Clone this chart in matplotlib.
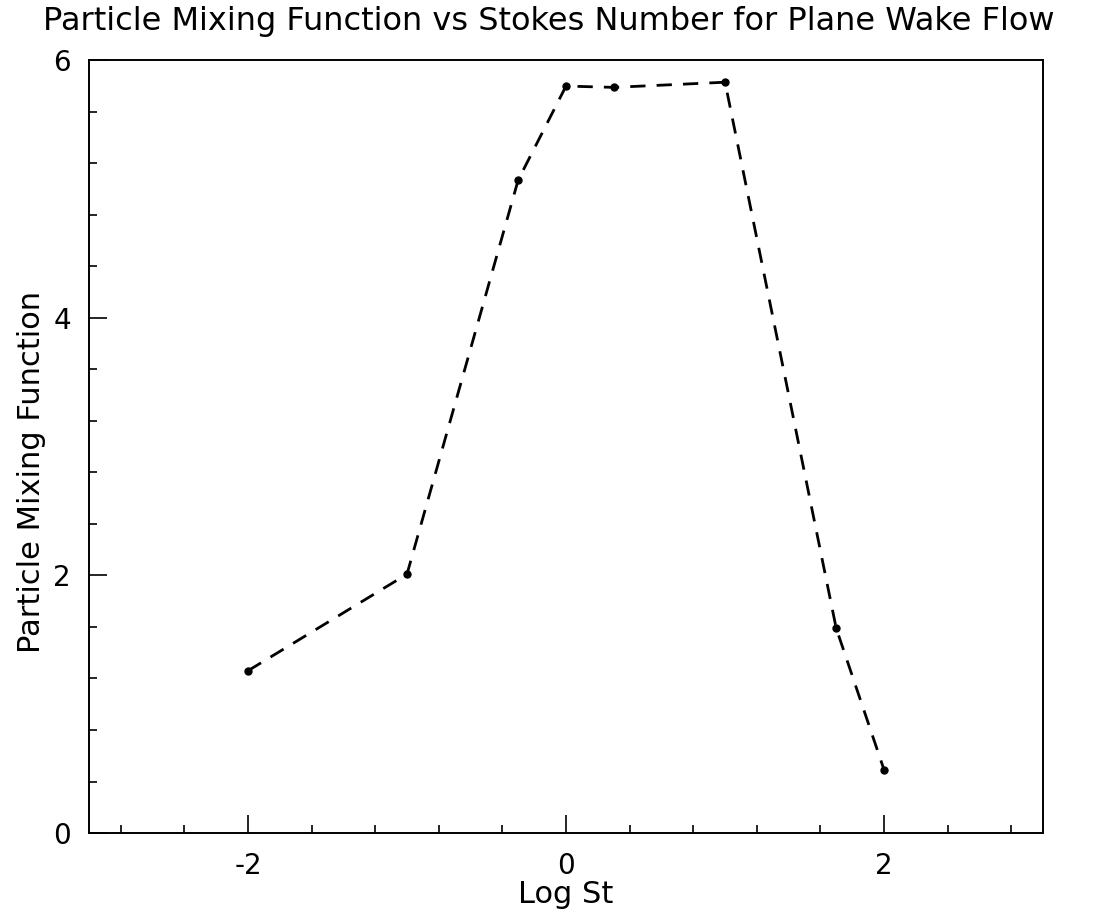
import numpy as np
import matplotlib
matplotlib.use("Agg")
import matplotlib.pyplot as plt
from matplotlib.ticker import MultipleLocator

# Data: log10 of Stokes number and mixing function
log_st = [np.log10(0.01), np.log10(0.1), np.log10(0.5), np.log10(1.0),
          np.log10(2.0), np.log10(10.0), np.log10(50.0), np.log10(100.0)]
mixing = [1.26, 2.01, 5.07, 5.80, 5.79, 5.83, 1.59, 0.49]

x_ticks = [-2, 0, 2]
y_ticks = [0, 2, 4, 6]

plt.rcParams['font.family'] = ['DejaVu Sans']
plt.rcParams['axes.unicode_minus'] = False

fig = plt.figure(figsize=(10.98, 9.14), dpi=100)
ax = fig.add_axes([0.081, 0.0886, 0.869, 0.8454])

line, = ax.plot(log_st, mixing, color='black', linewidth=2.0, linestyle='--',
                marker='o', markersize=5)
line.set_dashes((5.5, 4))

ax.set_xlim(-3, 3)
ax.set_ylim(0, 6)
ax.set_xticks(x_ticks)
ax.set_yticks(y_ticks)
ax.xaxis.set_minor_locator(MultipleLocator(0.4))
ax.yaxis.set_minor_locator(MultipleLocator(0.4))

ax.tick_params(which='major', direction='in', length=13, width=1.2,
               labelsize=20, top=False, right=False)
ax.tick_params(axis='x', which='major', pad=14)
ax.tick_params(axis='y', which='major', pad=13)
ax.tick_params(which='minor', direction='in', length=6, width=1.2,
               top=False, right=False)

for s in ax.spines.values():
    s.set_linewidth(1.4)

ax.set_xlabel('Log St', fontsize=22, labelpad=0)
ax.set_ylabel('Particle Mixing Function', fontsize=22)
ax.yaxis.set_label_coords(-0.045, 0.467)
fig.text(0.5, 0.977, 'Particle Mixing Function vs Stokes Number for Plane Wake Flow',
         ha='center', va='center', fontsize=23)

fig.savefig('out.png', dpi=100)
